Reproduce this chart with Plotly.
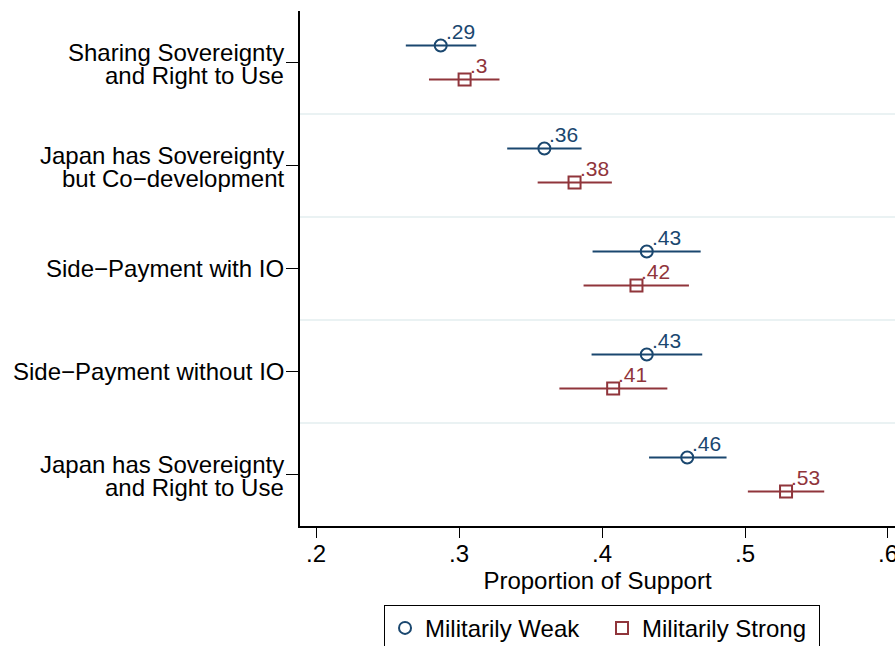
import plotly.graph_objects as go

categories = ["Sharing Sovereignty<br>and Right to Use",
              "Japan has Sovereignty<br>but Co\u2212development",
              "Side\u2212Payment with IO",
              "Side\u2212Payment without IO",
              "Japan has Sovereignty<br>and Right to Use"]

weak_est = [0.2872, 0.3597, 0.4313, 0.4313, 0.4596]
weak_lo = [0.2628, 0.3337, 0.3934, 0.3927, 0.4329]
weak_hi = [0.3121, 0.3857, 0.4690, 0.4701, 0.4871]

strong_est = [0.3039, 0.3808, 0.4241, 0.4078, 0.5287]
strong_lo = [0.2790, 0.3550, 0.3871, 0.3702, 0.5020]
strong_hi = [0.3283, 0.4069, 0.4608, 0.4457, 0.5554]

x_ticks = [0.2, 0.3, 0.4, 0.5, 0.6]
x_ticklabels = [".2", ".3", ".4", ".5", ".6"]

BLUE = "#1a476f"
RED = "#90353b"
OFF = 0.165
FONT = "Liberation Sans, Arial"

def fmt(v):
    s = f"{round(v, 2):.2f}".rstrip("0")
    return s[1:] if s.startswith("0") else s

pos = list(range(1, len(categories) + 1))

fig = go.Figure()
series = [
    ("Militarily Weak", weak_est, weak_lo, weak_hi, -OFF, BLUE, "circle-open"),
    ("Militarily Strong", strong_est, strong_lo, strong_hi, OFF, RED, "square-open"),
]
for name, est, lo, hi, off, col, sym in series:
    ys = [p + off for p in pos]
    fig.add_trace(go.Scatter(
        x=est, y=ys, mode="markers", name=name,
        marker=dict(symbol=sym, size=12, color=col, line=dict(width=2, color=col)),
        error_x=dict(type="data", symmetric=False,
                     array=[h - e for h, e in zip(hi, est)],
                     arrayminus=[e - l for e, l in zip(est, lo)],
                     color=col, thickness=2, width=0),
    ))
    for e, y in zip(est, ys):
        fig.add_annotation(x=e, y=y, text=fmt(e), showarrow=False,
                           xanchor="left", yanchor="middle", xshift=3, yshift=14,
                           font=dict(size=21, color=col, family=FONT))

# category labels (tight line spacing like the original)
for p, lab in zip(pos, categories):
    lines = lab.split("<br>")
    n = len(lines)
    for j, line in enumerate(lines):
        dy = (j - (n - 1) / 2) * 23.5 + (1.5 if n > 1 else 0)
        fig.add_annotation(xref="paper", x=0, y=p, yref="y", text=line, showarrow=False,
                           xanchor="right", yanchor="middle", xshift=-14, yshift=-dy,
                           font=dict(size=24, color="black", family=FONT))

for i in range(len(categories) - 1):
    fig.add_shape(type="line", xref="paper", x0=0, x1=1, yref="y",
                  y0=pos[i] + 0.5, y1=pos[i] + 0.5,
                  line=dict(color="#eaf2f3", width=2), layer="below")

fig.update_layout(
    width=895, height=646,
    margin=dict(l=300, r=0, t=11, b=120, autoexpand=False),
    paper_bgcolor="white", plot_bgcolor="white",
    font=dict(family=FONT, size=24, color="black"),
    showlegend=True,
    legend=dict(orientation="h", x=0.5076, xanchor="center", y=-0.153, yanchor="top",
                bordercolor="black", borderwidth=1, font=dict(size=24),
                itemwidth=30, traceorder="normal", entrywidth=172, entrywidthmode="pixels"),
    xaxis=dict(range=[0.1888, 0.6049], tickvals=x_ticks, ticktext=x_ticklabels,
               showgrid=False, zeroline=False, showline=True, linecolor="black",
               linewidth=1.5, ticks="outside", ticklen=10, tickcolor="black",
               tickfont=dict(size=24), ticklabelstandoff=-5, ticklabeloverflow="allow",
               automargin=False,
               title=dict(text="Proportion of Support", font=dict(size=24), standoff=2)),
    yaxis=dict(range=[5.5, 0.5], tickvals=pos, ticktext=[""] * len(pos),
               showgrid=False, zeroline=False, showline=True, linecolor="black",
               linewidth=1.5, ticks="outside", ticklen=12, tickcolor="black",
               automargin=False),
)

fig.write_html("out.html", config={"displayModeBar": False},
               post_script="document.body.style.margin='0';document.body.style.overflow='hidden';")
